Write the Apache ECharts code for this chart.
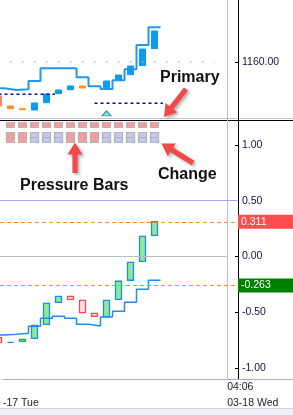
<!DOCTYPE html>
<html>
<head>
<meta charset="utf-8">
<script src="https://cdn.jsdelivr.net/npm/echarts@6/dist/echarts.min.js"></script>
<style>
html, body { margin: 0; padding: 0; background: #fff; }
#chart { width: 293px; height: 415px; }
</style>
</head>
<body>
<div id="chart"></div>
<script>
/* bar 0 is the half hidden bar on the left edge, one bar = one x unit */
var timeLine = 19;            // 04:06 grid line
var timeLabels = ['-17 Tue', '04:06\n03-18 Wed'];

// primary pane
var primaryStep = [1155.22, 1154.91, 1155.04, 1156.55, 1158.85, 1158.85, 1158.85,
    1157.22, 1155.58, 1155.09, 1156.67, 1158.67, 1163.09, 1166.31];
var primaryBars = [   // index, open, close
    [3, 1151.27, 1152.55], [4, 1152.60, 1154.18], [5, 1154.24, 1154.91],
    [6, 1154.96, 1155.64], [9, 1155.33, 1156.55], [10, 1156.67, 1157.64],
    [11, 1157.69, 1159.27], [12, 1159.33, 1162.36], [13, 1162.42, 1165.64]
];
var orangeBars = [[1, 1151.51, 1152.00], [2, 1151.33, 1151.51], [7, 1155.27, 1155.64]];
var pinkBars = [[0, 1152.00, 1153.82]];
var levels = [[0, 4.7, 1154.13], [8, 13.7, 1152.49]];   // from, to, price
var signals = [[9, 1150.67]];
var priceMark = 1160;

// pressure bars, 1 = red, 0 = blue
var pressureRow = [1, 1, 1, 1, 1, 1, 1, 1, 1, 1, 1, 1, 1, 1];
var changeRow = [1, 1, 1, 0, 0, 0, 1, 1, 1, 0, 0, 0, 0, 0];

// oscillator pane
var oscOpen = [-0.730, -0.771, -0.762, -0.735, -0.609, -0.412, -0.358,
    -0.394, -0.511, -0.541, -0.385, -0.214, -0.044, 0.189];
var oscClose = [-0.774, -0.771, -0.744, -0.618, -0.421, -0.358, -0.385,
    -0.505, -0.537, -0.394, -0.223, -0.053, 0.180, 0.311];
var oscStep = [-0.705, -0.699, -0.690, -0.627, -0.555, -0.537, -0.555,
    -0.609, -0.624, -0.544, -0.493, -0.412, -0.295, -0.214];
var oscTicks = [-1, -0.5, 0, 0.5, 1];
var oscLast = 0.311;
var signalLast = -0.263;

var xMin = 0.125;
var FONT = 'Liberation Sans';

function stepData(vals) {
    var d = vals.map(function (v, i) { return [i - 0.5, v]; });
    d.push([vals.length - 0.5, vals[vals.length - 1]]);
    return d;
}
function candles(rows) {
    return rows.map(function (r) {
        return [r[0], r[1], r[2], Math.min(r[1], r[2]), Math.max(r[1], r[2])];
    });
}
var oscRows = oscOpen.map(function (o, i) { return [i, o, oscClose[i]]; });

var boxes = [];
pressureRow.forEach(function (p, i) {
    boxes.push({ value: [i, 0], itemStyle: { color: p ? '#FF9A9A' : '#C6C6F8' } });
    boxes.push({ value: [i, 2], itemStyle: { color: changeRow[i] ? '#FF9A9A' : '#C6C6F8' } });
    boxes.push({ value: [i, 3], itemStyle: { color: changeRow[i] ? '#FF9A9A' : '#C6C6F8' } });
});

function arrow(tip, tail) {
    var dx = tail[0] - tip[0], dy = tail[1] - tip[1];
    var len = Math.sqrt(dx * dx + dy * dy), ux = dx / len, uy = dy / len;
    var px = -uy, py = ux, hl = 12, hw = 7.5, sw = 2.6;
    var b = [tip[0] + ux * hl, tip[1] + uy * hl];
    return {
        type: 'polygon', z: 100,
        shape: { points: [tip, [b[0] + px * hw, b[1] + py * hw], [b[0] + px * sw, b[1] + py * sw],
            [tail[0] + px * sw, tail[1] + py * sw], [tail[0] - px * sw, tail[1] - py * sw],
            [b[0] - px * sw, b[1] - py * sw], [b[0] - px * hw, b[1] - py * hw]] },
        style: { fill: '#F24848', shadowBlur: 3, shadowOffsetX: 2, shadowOffsetY: 2, shadowColor: 'rgba(0,0,0,0.3)' }
    };
}
function note(text, x, y) {
    return { type: 'text', z: 100, style: { text: text, x: x, y: y, verticalAlign: 'middle',
        font: 'bold 16px "' + FONT + '"', fill: '#111' } };
}

var xAx = function (i) {
    return { gridIndex: i, type: 'value', min: xMin, max: xMin + 238 / 12, show: false };
};

var option = {
    animation: false,
    backgroundColor: '#fff',
    textStyle: { fontFamily: FONT },
    grid: [
        { left: 0, right: 0, top: 0, height: 379 },
        { left: 0, right: 55, top: 0, height: 118 },
        { left: 0, right: 55, top: 122.5, height: 20 },
        { left: 0, right: 55, top: 120, height: 259 }
    ],
    xAxis: [
        {
            gridIndex: 0, type: 'value', min: xMin, max: xMin + 293 / 12,
            axisLine: { lineStyle: { color: '#A8A8EC' } },
            axisTick: { show: false }, splitLine: { show: false },
            axisLabel: {
                customValues: [xMin, timeLine], showMinLabel: true,
                align: 'left', margin: 0, lineHeight: 16, fontSize: 10.5, color: '#202030',
                formatter: function (v) { return v === timeLine ? timeLabels[1] : '\n' + timeLabels[0]; }
            }
        },
        xAx(1), xAx(2), xAx(3)
    ],
    yAxis: [
        {
            gridIndex: 0, position: 'right', offset: -55, min: 0, max: 1,
            axisLine: { show: true, lineStyle: { color: '#000' } },
            axisTick: { show: false }, axisLabel: { show: false }, splitLine: { show: false }
        },
        {
            gridIndex: 1, position: 'right', min: 1150 - 1 / 5.5, max: 1150 + 117 / 5.5,
            axisLine: { show: false }, splitLine: { show: false },
            axisTick: { show: true, inside: true, length: 3, customValues: [priceMark], lineStyle: { color: '#000' } },
            axisLabel: { customValues: [priceMark], margin: 4, fontSize: 10.5, color: '#1a1040',
                formatter: function (v) { return v.toFixed(2); } }
        },
        {
            gridIndex: 2, type: 'category', data: ['pressure', 'gap', 'change', 'change2'],
            inverse: true, show: false
        },
        {
            gridIndex: 3, position: 'right', min: -1.1, max: 1.2239,
            axisLine: { show: false }, splitLine: { show: false },
            axisTick: { show: true, inside: true, length: 3, customValues: oscTicks, lineStyle: { color: '#000' } },
            axisLabel: { customValues: oscTicks, margin: 4, fontSize: 10.5, color: '#1a1040',
                formatter: function (v) { return v.toFixed(2); } }
        }
    ],
    series: [
        {
            type: 'line', xAxisIndex: 0, yAxisIndex: 0, data: [[timeLine, 0.5]], symbol: 'none',
            lineStyle: { width: 0 }, silent: true,
            markLine: { symbol: ['none', 'none'], silent: true, label: { show: false },
                lineStyle: { color: '#C0C0C0', type: 'solid', width: 1 }, data: [{ xAxis: timeLine }] }
        },
        {
            type: 'line', xAxisIndex: 1, yAxisIndex: 1, step: 'end', data: stepData(primaryStep),
            symbol: 'none', lineStyle: { color: '#2196F3', width: 2 }, z: 3,
            markLine: { symbol: ['none', 'none'], silent: true, label: { show: false },
                lineStyle: { color: '#B8B8B8', type: [1.5, 10.5], dashOffset: 2, width: 1.5 },
                data: [[{ xAxis: xMin, yAxis: priceMark }, { xAxis: 18, yAxis: priceMark }]] }
        },
        {
            type: 'candlestick', xAxisIndex: 1, yAxisIndex: 1, data: candles(primaryBars), barWidth: 6,
            itemStyle: { color: '#0C9BEF', color0: '#0C9BEF', borderColor: '#0C9BEF', borderColor0: '#0C9BEF', borderWidth: 1 }
        },
        {
            type: 'candlestick', xAxisIndex: 1, yAxisIndex: 1, data: candles(orangeBars), barWidth: 6,
            itemStyle: { color: '#F7941D', color0: '#F7941D', borderColor: '#F7941D', borderColor0: '#F7941D', borderWidth: 1 }
        },
        {
            type: 'candlestick', xAxisIndex: 1, yAxisIndex: 1, data: candles(pinkBars), barWidth: 6,
            itemStyle: { color: '#FF6FD8', color0: '#FF6FD8', borderColor: '#F7941D', borderColor0: '#F7941D', borderWidth: 1 }
        }
    ].concat(levels.map(function (l) {
        return {
            type: 'line', xAxisIndex: 1, yAxisIndex: 1, symbol: 'none',
            data: [[l[0], l[2]], [l[1], l[2]]],
            lineStyle: { color: '#0A0A9E', width: 1.5, type: [3, 3] }
        };
    })).concat([
        {
            type: 'scatter', xAxisIndex: 1, yAxisIndex: 1, data: signals, symbol: 'triangle',
            symbolSize: [9, 5], itemStyle: { color: '#8FEA8F', borderColor: '#1E8CF0', borderWidth: 1, opacity: 1 }
        },
        {
            type: 'scatter', xAxisIndex: 2, yAxisIndex: 2, data: boxes, symbol: 'rect',
            symbolSize: [8, 5], itemStyle: { borderColor: '#B4B4B4', borderWidth: 1, opacity: 1 }
        },
        {
            type: 'candlestick', xAxisIndex: 3, yAxisIndex: 3, data: candles(oscRows), barWidth: 6,
            itemStyle: { color: '#8EEA8E', color0: '#FFE3E3', borderColor: '#1E8CF0', borderColor0: '#F04E4E', borderWidth: 1.3 },
            markLine: {
                symbol: ['none', 'none'], silent: true, label: { show: false },
                data: [
                    { yAxis: 0.5, lineStyle: { color: '#A8A8F0', type: 'solid', width: 1 } },
                    [{ xAxis: xMin, yAxis: 0, lineStyle: { color: '#BDBDBD', type: 'solid', width: 1.2 } },
                        { xAxis: timeLine, yAxis: 0 }],
                    { yAxis: oscLast, lineStyle: { color: '#FF8C1A', type: [4, 3], width: 1 },
                        label: { show: true, position: 'end', distance: 0, formatter: String(oscLast),
                            backgroundColor: '#FF4C4C', color: '#fff', fontSize: 10.5, fontFamily: FONT,
                            padding: [2, 4, 1, 3], width: 48, lineHeight: 11 } },
                    { yAxis: signalLast, lineStyle: { color: '#FF8C1A', type: [4, 3], width: 1 },
                        label: { show: true, position: 'end', distance: 0, formatter: String(signalLast),
                            backgroundColor: '#008000', color: '#fff', fontSize: 10.5, fontFamily: FONT,
                            padding: [2, 4, 1, 3], width: 48, lineHeight: 11 } }
                ]
            }
        },
        {
            type: 'line', xAxisIndex: 3, yAxisIndex: 3, step: 'end', data: stepData(oscStep),
            symbol: 'none', lineStyle: { color: '#1E8CF0', width: 1.5 }, z: 3
        }
    ]),
    graphic: [
        { type: 'line', shape: { x1: 0, y1: 118.5, x2: 293, y2: 118.5 }, style: { stroke: '#C4C4C4', lineWidth: 1 } },
        { type: 'line', shape: { x1: 0, y1: 120.5, x2: 293, y2: 120.5 }, style: { stroke: '#000', lineWidth: 1 } },
        { type: 'rect', shape: { x: 0, y: 408.5, width: 293, height: 7 }, style: { fill: '#EFF0F8' } },
        { type: 'line', shape: { x1: 0, y1: 408.5, x2: 293, y2: 408.5 }, style: { stroke: '#D2D4E0', lineWidth: 1 } },
        arrow([164, 117], [186, 89]),
        arrow([75, 142.5], [75, 173]),
        arrow([161.5, 143.5], [193, 163]),
        note('Primary', 160, 78),
        note('Pressure Bars', 20, 185.5),
        note('Change', 158, 174.5)
    ]
};

var myChart = echarts.init(document.getElementById('chart'));
myChart.setOption(option);
</script>
</body>
</html>
